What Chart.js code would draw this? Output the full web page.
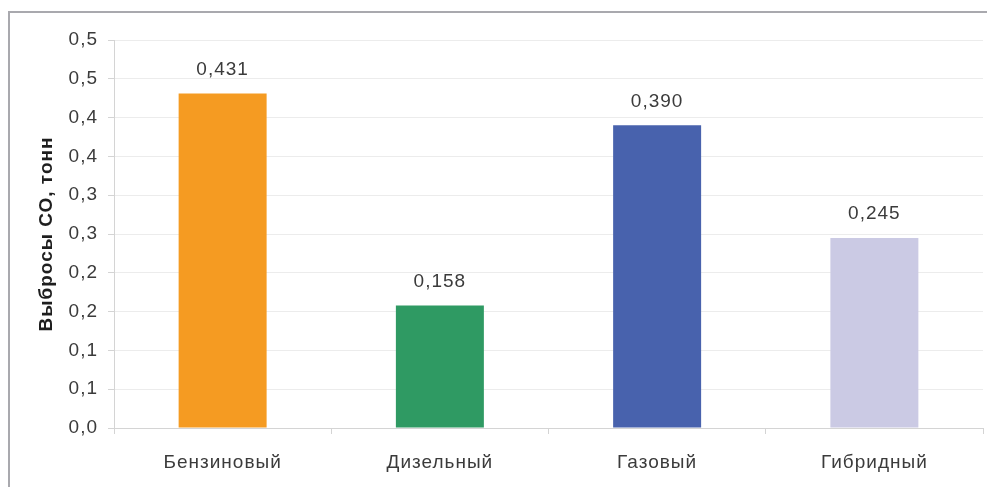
<!DOCTYPE html>
<html>
<head>
<meta charset="UTF-8">
<title>Выбросы СО</title>
<script src="https://cdn.jsdelivr.net/npm/chart.js"></script>
<style>
  html, body { margin: 0; padding: 0; background: #fff; }
  #wrap { position: relative; width: 987px; height: 487px; overflow: hidden; }
  #frame { position: absolute; left: 8px; top: 11px; width: 1200px; height: 800px;
           border-top: 2px solid #a9a9ae; border-left: 2px solid #a9a9ae; }
  #box { position: absolute; left: 0; top: 0; width: 987px; height: 487px; }
</style>
</head>
<body>
<div id="wrap">
  <div id="frame"></div>
  <div id="box"><canvas id="coChart"></canvas></div>
</div>
<script>
  const categories = ['Бензиновый', 'Дизельный', 'Газовый', 'Гибридный'];
  const emissions = [0.431, 0.158, 0.390, 0.245];
  const barColors = ['#F59B22', '#2F9A63', '#4862AD', '#CBCAE4'];
  // axis runs 0..0.5 by 0.05, labels rounded to one decimal
  const tickLabels = ['0,0', '0,1', '0,1', '0,2', '0,2', '0,3', '0,3', '0,4', '0,4', '0,5', '0,5'];

  const textColor = '#3b3b3b';
  const fontFamily = 'Arial, "Liberation Sans", sans-serif';

  // slightly wider tracking for all canvas text
  const tracking = {
    id: 'tracking',
    beforeDraw(chart) { chart.ctx.letterSpacing = '1px'; }
  };

  // value labels above the bars
  const valueLabels = {
    id: 'valueLabels',
    afterDatasetsDraw(chart) {
      const ctx = chart.ctx;
      const meta = chart.getDatasetMeta(0);
      ctx.save();
      ctx.font = '19px ' + fontFamily;
      ctx.fillStyle = textColor;
      ctx.textAlign = 'center';
      ctx.textBaseline = 'middle';
      meta.data.forEach((bar, i) => {
        ctx.fillText(emissions[i].toFixed(3).replace('.', ','), bar.x, bar.y - 24);
      });
      ctx.restore();
    }
  };

  new Chart(document.getElementById('coChart'), {
    type: 'bar',
    data: {
      labels: categories,
      datasets: [{
        data: emissions,
        backgroundColor: barColors,
        categoryPercentage: 1,
        barPercentage: 0.405
      }]
    },
    options: {
      responsive: true,
      maintainAspectRatio: false,
      animation: false,
      layout: { padding: { left: 0, top: 40, right: 4, bottom: 0 } },
      plugins: {
        legend: { display: false },
        tooltip: { enabled: false }
      },
      scales: {
        x: {
          grid: { drawOnChartArea: false, drawTicks: true, tickLength: 6, color: '#d4d4d4' },
          border: { color: '#d4d4d4', width: 1 },
          ticks: { color: textColor, padding: 17, font: { size: 19, family: fontFamily } },
          afterFit(scale) { scale.height = 59; }
        },
        y: {
          min: 0,
          max: 0.5,
          ticks: {
            stepSize: 0.05,
            color: textColor,
            padding: 10,
            font: { size: 19, family: fontFamily },
            callback: (v, i) => tickLabels[i]
          },
          grid: { color: '#ececec', tickLength: 6, tickColor: '#d4d4d4' },
          border: { color: '#d4d4d4', width: 1 },
          title: {
            display: true,
            text: 'Выбросы СО, тонн',
            color: '#1e1e1e',
            font: { size: 19, weight: 'bold', family: fontFamily },
            padding: { top: 35, bottom: 0 }
          },
          afterFit(scale) { scale.width = 114; }
        }
      }
    },
    plugins: [tracking, valueLabels]
  });
</script>
</body>
</html>
